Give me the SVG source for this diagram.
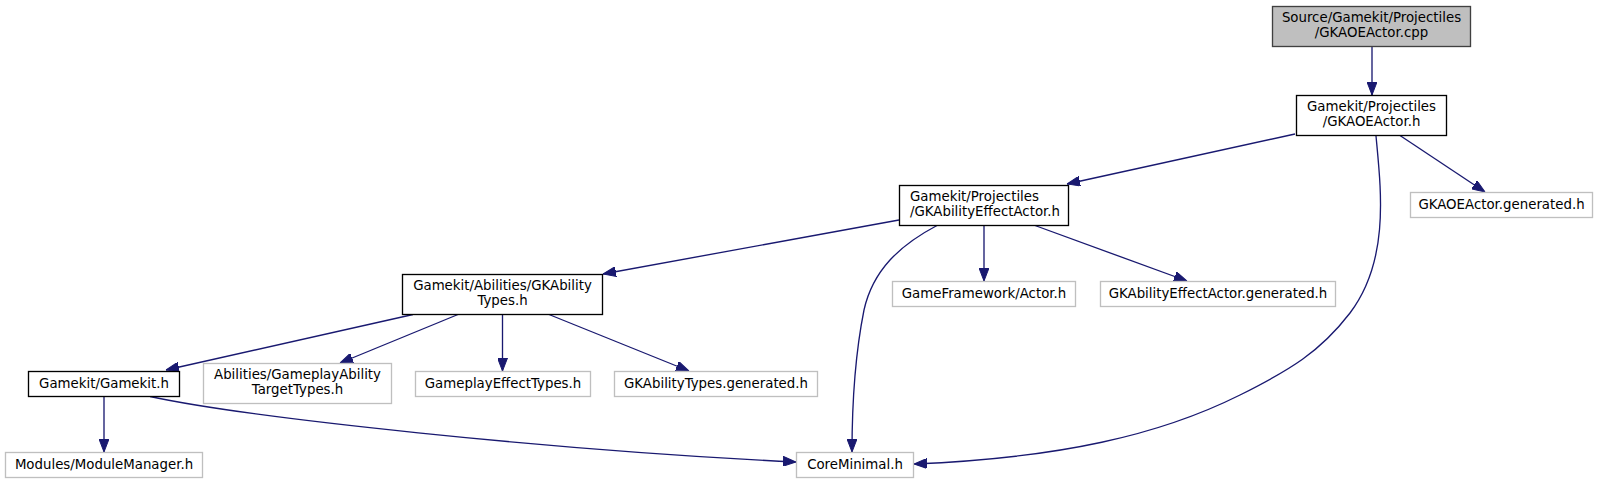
<svg xmlns="http://www.w3.org/2000/svg" width="1598" height="484" viewBox="0 0 1598 484">
<style>
  .node rect { fill: #ffffff; stroke: #000000; stroke-width: 1.33; }
  .node.grey rect { stroke: #bfbfbf; }
  .node.root rect { fill: #bfbfbf; stroke: #404040; }
  .node text { font-family: "DejaVu Sans", "Liberation Sans", sans-serif; font-size: 13.33px; fill: #000000; text-anchor: middle; }
  .node text.left { text-anchor: start; }
  .edges path { fill: none; stroke: #191970; stroke-width: 1.33; marker-end: url(#arrow); }
</style>
<defs>
  <marker id="arrow" markerUnits="userSpaceOnUse" viewBox="0 0 13 10" refX="13" refY="5" markerWidth="13" markerHeight="10" orient="auto">
    <path d="M0,0 L13,5 L0,10 Z" fill="#191970" stroke="#191970" stroke-width="1"/>
  </marker>
</defs>
<rect x="0" y="0" width="1598" height="484" fill="#ffffff"/>
<g class="edges" id="edges">
  <path d="M1372,46.5 L1372,95"/>
  <path d="M1295,134 L1067,184"/>
  <path d="M1400,135.5 L1485,192"/>
  <path d="M1376,136 C1381,190 1390,260 1350,313 C1320,352 1290,370 1240,395 C1160,435 1060,458 914,464"/>
  <path d="M899,220 L603,274"/>
  <path d="M937,225.5 C900,245 873,270 864,310 C856,350 852,395 852,452"/>
  <path d="M984,225.5 L984,281"/>
  <path d="M1035,225.5 L1187,281"/>
  <path d="M413,314.5 L166,370"/>
  <path d="M458,314.5 L340,363"/>
  <path d="M502.5,314.5 L502.5,371"/>
  <path d="M549,314.5 L689,371"/>
  <path d="M104,396.5 L104,452"/>
  <path d="M150,396.5 C250,418 550,450 796,462"/>
</g>
<g class="node root" id="node-root">
  <rect x="1272.5" y="6.5" width="198" height="40"/>
  <text x="1371.5" y="22">Source/Gamekit/Projectiles</text>
  <text x="1371.5" y="37">/GKAOEActor.cpp</text>
</g>
<g class="node" id="node-gkaoeactor-h">
  <rect x="1296.5" y="95.5" width="150" height="40"/>
  <text x="1371.5" y="111">Gamekit/Projectiles</text>
  <text x="1371.5" y="126">/GKAOEActor.h</text>
</g>
<g class="node" id="node-gkabilityeffectactor-h">
  <rect x="899.5" y="185.5" width="169" height="40"/>
  <text class="left" x="910" y="201">Gamekit/Projectiles</text>
  <text class="left" x="910" y="216">/GKAbilityEffectActor.h</text>
</g>
<g class="node grey" id="node-gkaoeactor-generated">
  <rect x="1410.5" y="192.5" width="182" height="25"/>
  <text x="1501.5" y="208.5">GKAOEActor.generated.h</text>
</g>
<g class="node grey" id="node-coreminimal">
  <rect x="796.5" y="452.5" width="117" height="25"/>
  <text x="855" y="468.5">CoreMinimal.h</text>
</g>
<g class="node" id="node-gkabilitytypes-h">
  <rect x="402.5" y="274.5" width="200" height="40"/>
  <text x="502.5" y="290">Gamekit/Abilities/GKAbility</text>
  <text x="502.5" y="305">Types.h</text>
</g>
<g class="node grey" id="node-actor-h">
  <rect x="892.5" y="281.5" width="183" height="25"/>
  <text x="984" y="297.5">GameFramework/Actor.h</text>
</g>
<g class="node grey" id="node-gkabilityeffectactor-generated">
  <rect x="1100.5" y="281.5" width="235" height="25"/>
  <text x="1218" y="297.5">GKAbilityEffectActor.generated.h</text>
</g>
<g class="node" id="node-gamekit-h">
  <rect x="28.5" y="371.5" width="151" height="25"/>
  <text x="104" y="387.5">Gamekit/Gamekit.h</text>
</g>
<g class="node grey" id="node-targettypes">
  <rect x="203.5" y="363.5" width="188" height="40"/>
  <text x="297.5" y="379">Abilities/GameplayAbility</text>
  <text x="297.5" y="394">TargetTypes.h</text>
</g>
<g class="node grey" id="node-gameplayeffecttypes">
  <rect x="415.5" y="371.5" width="175" height="25"/>
  <text x="503" y="387.5">GameplayEffectTypes.h</text>
</g>
<g class="node grey" id="node-gkabilitytypes-generated">
  <rect x="614.5" y="371.5" width="203" height="25"/>
  <text x="716" y="387.5">GKAbilityTypes.generated.h</text>
</g>
<g class="node grey" id="node-modulemanager">
  <rect x="5.5" y="452.5" width="197" height="25"/>
  <text x="104" y="468.5">Modules/ModuleManager.h</text>
</g>
</svg>
